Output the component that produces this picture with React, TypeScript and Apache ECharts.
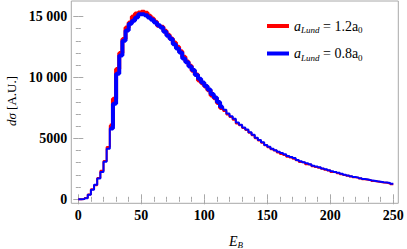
import React, { useEffect, useRef } from "react";
import * as echarts from "echarts";

const BIN_WIDTH = 2.5;
const X_MIN = 0;
const X_MAX = 250;
const X_TICK_STEP = 50;
const Y_MIN = 0;
const Y_MAX = 15000;
const Y_TICK_STEP = 5000;

const SERIES_NAMES = ["a_Lund = 1.2a0", "a_Lund = 0.8a0"];

// a_Lund = 1.2 a0 (red), one value per 2.5-wide bin from 0 to 250
const RED_12 = [
  10, 30, 100, 400, 830, 1150, 1750, 2350, 3140, 4290,
  6050, 8250, 10700, 12000, 13150, 14100, 14500, 15000, 15250, 15330,
  15390, 15300, 15060, 14840, 14560, 14250, 14150, 13830, 13500, 13200,
  12870, 12520, 12140, 11700, 11300, 10960, 10550, 10250, 9750, 9520,
  9250, 8950, 8520, 8300, 7900, 7500, 7250, 6950, 6750, 6520,
  6230, 6080, 5850, 5680, 5470, 5250, 5000, 4830, 4650, 4430,
  4280, 4100, 4000, 3850, 3720, 3640, 3490, 3420, 3330, 3200,
  3060, 3010, 2880, 2830, 2720, 2650, 2590, 2500, 2420, 2360,
  2250, 2200, 2140, 2060, 1990, 1930, 1870, 1800, 1760, 1700,
  1640, 1600, 1560, 1500, 1460, 1420, 1380, 1350, 1300, 1240,
];

// a_Lund = 0.8 a0 (blue)
const BLUE_08 = [
  10, 30, 90, 380, 780, 1200, 1700, 2250, 3080, 4150,
  5800, 7850, 10300, 11800, 13000, 13850, 14400, 14650, 14920, 15190,
  15190, 15110, 14920, 14730, 14510, 14290, 14100, 13750, 13420, 13150,
  12730, 12380, 12050, 11560, 11250, 10900, 10600, 10200, 9900, 9580,
  9300, 9020, 8650, 8350, 7980, 7600, 7350, 7050, 6820, 6600,
  6300, 6120, 5900, 5720, 5500, 5300, 5050, 4860, 4680, 4450,
  4320, 4150, 4030, 3900, 3800, 3700, 3560, 3480, 3390, 3230,
  3120, 3050, 2950, 2870, 2760, 2700, 2620, 2520, 2460, 2390,
  2300, 2240, 2170, 2090, 2020, 1960, 1890, 1830, 1780, 1720,
  1660, 1620, 1570, 1530, 1480, 1440, 1400, 1370, 1330, 1270,
];

// bins drawn with the heavier stroke in the reference
const THICK_FROM = 10;
const THICK_TO = 46;

function stepData(vals: number[], from: number, to: number) {
  const pts: number[][] = [];
  for (let i = from; i < to; i++) pts.push([X_MIN + i * BIN_WIDTH, vals[i]]);
  pts.push([X_MIN + to * BIN_WIDTH, vals[to - 1]]);
  return pts;
}

const SERIF = "'Liberation Serif', 'DejaVu Serif', serif";
const FRAME = "#a8a8a8";

function yFmt(v: number) {
  const s = String(v);
  if (s.length > 4) return s.slice(0, s.length - 3) + " " + s.slice(s.length - 3);
  return s;
}

export default function App() {
  const ref = useRef<HTMLDivElement>(null);
  useEffect(() => {
    document.body.style.margin = "0";
    if (!ref.current) return;
    const chart = echarts.init(ref.current, null, { renderer: "svg" });
    const tickCommon = {
      axisLine: { show: false },
      splitLine: { show: false },
      axisTick: { inside: true, length: 5, lineStyle: { color: FRAME, width: 1 } },
      minorTick: { show: true, splitNumber: 5, length: 2.5, lineStyle: { color: FRAME, width: 1 } },
      minorSplitLine: { show: false },
    };
    const labelStyle = {
      fontFamily: SERIF,
      fontWeight: "bold" as const,
      fontSize: 14,
      color: "#000",
    };
    const mk = (name: string, color: string, vals: number[], from: number, to: number, width: number) => ({
      type: "line" as const,
      name,
      color,
      step: "end" as const,
      symbol: "none",
      clip: false,
      lineStyle: { color, width },
      data: stepData(vals, from, to),
      xAxisIndex: 0,
      yAxisIndex: 0,
    });
    chart.setOption({
      animation: false,
      grid: { left: 78.3, right: 13.7, top: 16.5, bottom: 49.7, containLabel: false },
      xAxis: [
        {
          type: "value", min: X_MIN, max: X_MAX, interval: X_TICK_STEP, position: "bottom", offset: 4,
          ...tickCommon,
          axisLabel: { ...labelStyle, margin: 5 },
        },
        {
          type: "value", min: X_MIN, max: X_MAX, interval: X_TICK_STEP, position: "top", offset: 15.5,
          ...tickCommon,
          axisLabel: { show: false },
        },
      ],
      yAxis: [
        {
          type: "value", min: Y_MIN, max: Y_MAX, interval: Y_TICK_STEP, position: "left", offset: 7,
          ...tickCommon,
          axisLabel: { ...labelStyle, margin: 4, formatter: yFmt },
        },
        {
          type: "value", min: Y_MIN, max: Y_MAX, interval: Y_TICK_STEP, position: "right", offset: 5,
          ...tickCommon,
          axisLabel: { show: false },
        },
      ],
      legend: {
        data: SERIES_NAMES,
        orient: "vertical",
        left: 262,
        top: 14,
        itemWidth: 22,
        itemHeight: 4,
        itemGap: 12,
        icon: "rect",
        formatter: (name: string) => {
          const v = name.indexOf("1.2") >= 0 ? "1.2" : "0.8";
          return `{i|a}{s|Lund}{n| = ${v}a}{z|0}`;
        },
        textStyle: {
          fontFamily: SERIF,
          color: "#000",
          rich: {
            i: { fontFamily: SERIF, fontStyle: "italic", fontSize: 14, color: "#000" },
            s: { fontFamily: SERIF, fontStyle: "italic", fontSize: 9, color: "#000", padding: [8, 0, 0, 0] },
            n: { fontFamily: SERIF, fontSize: 14, color: "#000" },
            z: { fontFamily: SERIF, fontSize: 9, color: "#000", padding: [8, 0, 0, 0] },
          },
        },
      },
      graphic: [
        {
          type: "rect",
          z: -1,
          shape: { x: 71.3, y: 1, width: 327, height: 202.3 },
          style: { fill: "none", stroke: FRAME, lineWidth: 1 },
          silent: true,
        },
        {
          type: "text",
          x: 11,
          y: 101,
          rotation: Math.PI / 2,
          style: {
            text: "{i|dσ} [A.U.]",
            fontFamily: SERIF,
            fontSize: 13,
            fill: "#000",
            align: "center",
            verticalAlign: "middle",
            rich: { i: { fontFamily: SERIF, fontStyle: "italic", fontSize: 13, fill: "#000" } } as any,
          },
        },
        {
          type: "text",
          x: 236,
          y: 241,
          style: {
            text: "{i|E}{s|B}",
            fontFamily: SERIF,
            fontSize: 14,
            fill: "#000",
            align: "center",
            verticalAlign: "middle",
            rich: {
              i: { fontFamily: SERIF, fontStyle: "italic", fontSize: 14, fill: "#000" },
              s: { fontFamily: SERIF, fontStyle: "italic", fontSize: 9, fill: "#000", padding: [8, 0, 0, 0] },
            } as any,
          },
        },
      ],
      series: [
        mk(SERIES_NAMES[0], "#ff0000", RED_12, 0, RED_12.length, 2),
        mk("red-heavy", "#ff0000", RED_12, THICK_FROM, THICK_TO, 4),
        mk(SERIES_NAMES[1], "#0000ff", BLUE_08, 0, BLUE_08.length, 2),
        mk("blue-heavy", "#0000ff", BLUE_08, THICK_FROM, THICK_TO, 4),
      ],
    });
    return () => chart.dispose();
  }, []);
  return <div ref={ref} style={{ width: 407, height: 249 }} />;
}
